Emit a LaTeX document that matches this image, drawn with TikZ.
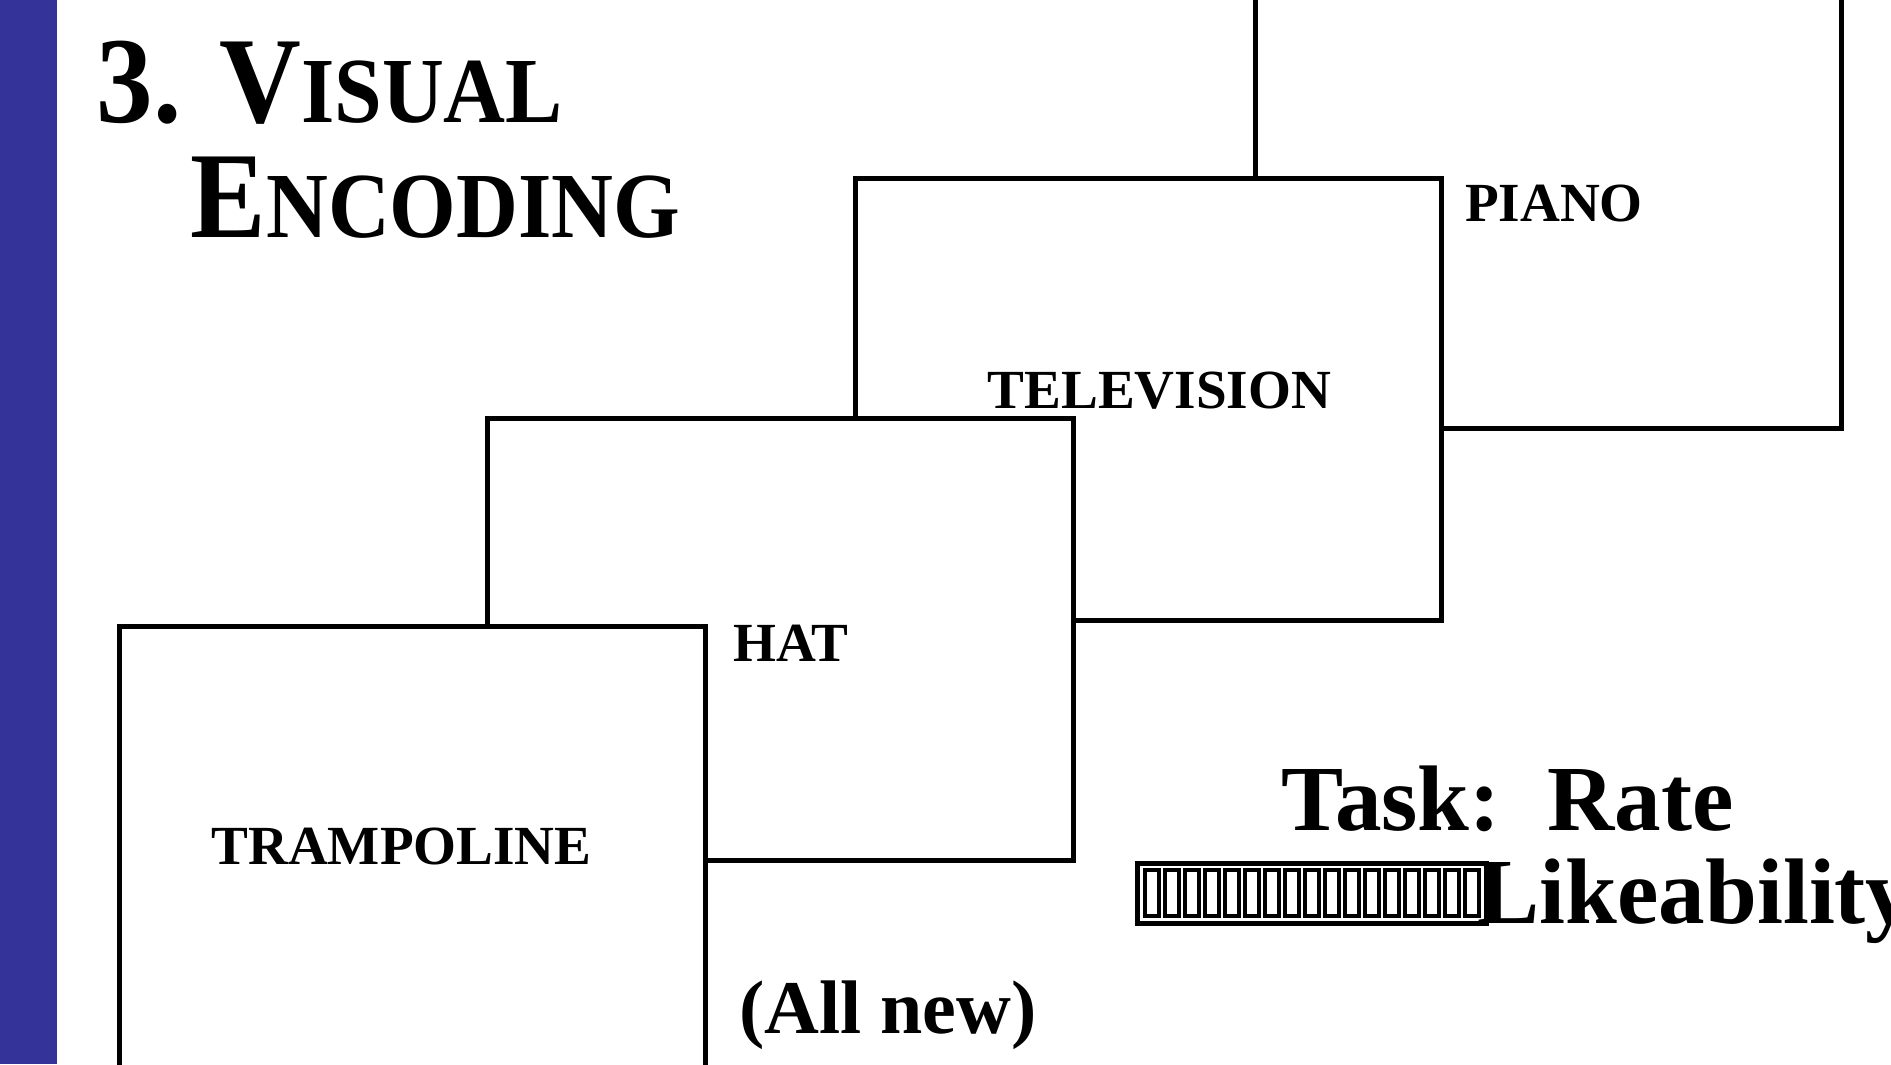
\documentclass[tikz,border=0pt]{standalone}
\usepackage{fontspec}
\setmainfont{Liberation Serif}
\newfontfamily\titlefont[FakeStretch=0.92]{Liberation Serif}
\newcommand{\smallcap}[1]{{\fontsize{26.5}{26.5}\selectfont #1}}

\begin{document}
\begin{tikzpicture}[
  card/.style={line width=0.05cm, draw=black, fill=white},
  cardlabel/.style={anchor=base, inner sep=0pt, font=\fontsize{15.7}{15.7}\selectfont\bfseries},
  tasktext/.style={inner sep=0pt, font=\fontsize{26.5}{26.5}\selectfont\bfseries},
  titletext/.style={anchor=base west, inner sep=0pt, font=\titlefont\fontsize{35}{35}\selectfont\bfseries},
  tofu/.style={line width=0.035cm, draw=black}
]
\definecolor{slide_blue}{RGB}{51,51,153}
\clip (0,0) rectangle (18.91,10.64);
\useasboundingbox (0,0) rectangle (18.91,10.64);
\fill[slide_blue] (0,0) rectangle (0.57,10.64);
% title
\node[titletext] (title1) at (0.96,9.42) {3. V\smallcap{ISUAL}};
\node[titletext] (title2) at (1.90,8.27) {E\smallcap{NCODING}};
% cards, back to front
\draw[card] (12.555,6.353) rectangle (18.415,10.778);
\draw[card] (8.557,4.433) rectangle (14.417,8.860);
\draw[card] (4.873,2.033) rectangle (10.733,6.457);
\draw[card] (1.193,-0.052) rectangle (7.057,4.373);
\node[cardlabel] (piano) at (15.54,8.43) {PIANO};
\node[cardlabel] (television) at (11.595,6.56) {TELEVISION};
\node[cardlabel] (hat) at (7.91,4.03) {HAT};
\node[cardlabel] (trampoline) at (4.015,2.00) {TRAMPOLINE};
% task
\node[tasktext, anchor=base] (task) at (15.075,2.34) {Task:~~Rate};
\draw[line width=0.05cm] (11.37,1.41) rectangle (14.86,2.01);
\foreach \i in {0,...,16}
  \draw[tofu] ({11.45+0.2*\i},1.48) rectangle ++(0.14,0.46);
\node[tasktext, anchor=base west] (likeability) at (14.77,1.41) {Likeability};
\node[tasktext, anchor=base, font=\fontsize{21.6}{21.6}\selectfont\bfseries] (allnew) at (8.88,0.31) {(All new)};
\end{tikzpicture}
\end{document}
